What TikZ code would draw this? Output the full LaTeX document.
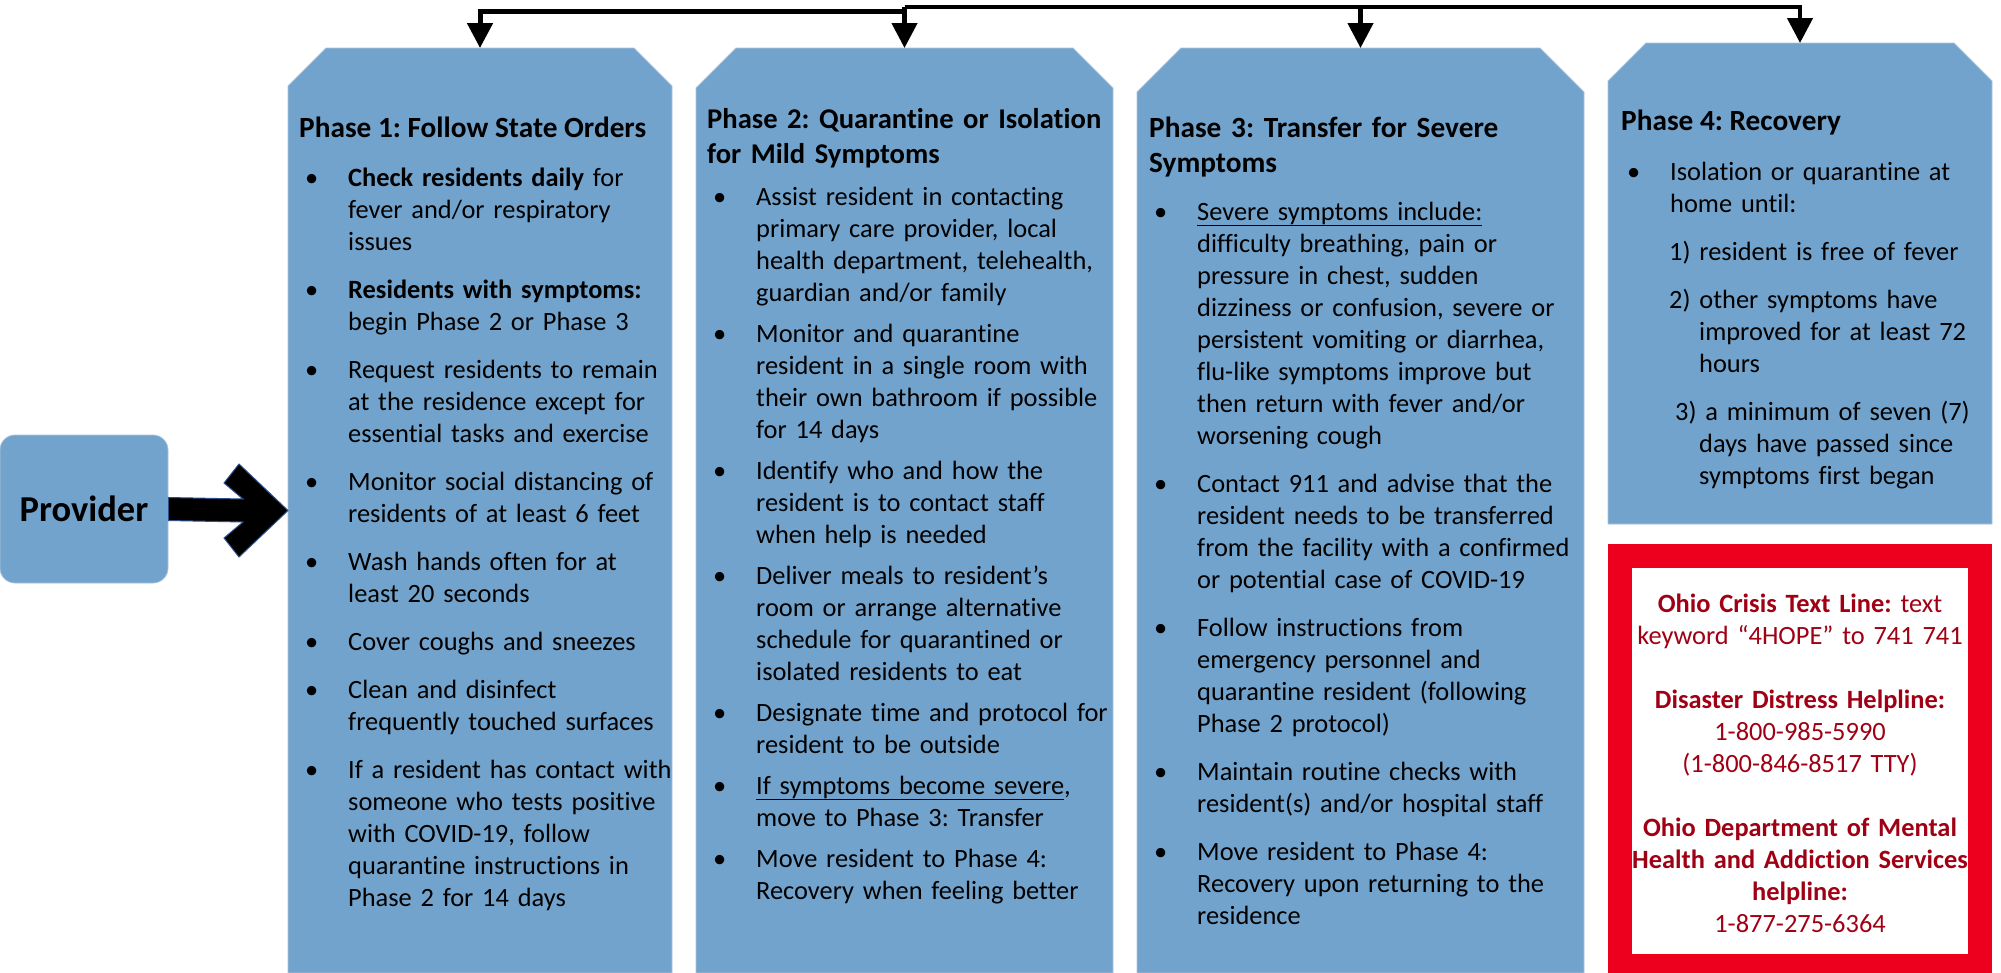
\documentclass[tikz,border=0pt]{standalone}
\usepackage{fontspec}
\setmainfont{Carlito}[Ligatures=NoCommon]
\usetikzlibrary{arrows.meta,calc}
\frenchspacing
\definecolor{boxblue}{RGB}{114,163,204}
\definecolor{boxedge}{RGB}{170,195,220}
\definecolor{alertred}{RGB}{237,0,30}
\definecolor{darkred}{RGB}{160,0,20}
\definecolor{arrowedge}{RGB}{47,82,143}
\newlength\itemgap
\newcommand\nl{\hfil\break}
\newcommand\bpa[1]{\hangindent=43pt\hangafter=1\noindent\makebox[43pt][l]{\textbullet}#1}
\newcommand\bp[1]{\par\vskip\itemgap\bpa{#1}}
\newcommand\np[3]{\par\vskip\itemgap\hangindent=#2\hangafter=1\noindent\hspace*{#1}#3}
\newcommand\bodyfont{\fontsize{26.4}{32}\selectfont\frenchspacing}
\newcommand\titlefont{\fontsize{29.3}{35}\selectfont\bfseries\frenchspacing}
\newcommand\phasebox[6]{%
  \node[boxframe, minimum width={#4-#2}, minimum height={#5-#3}] (#1) at ({(#2+#4)/2},{(#3+#5)/2}) {};
  \filldraw[boxfill] (#2,#5) -- (#2,#3+#6) -- (#2+#6,#3) -- (#4-#6,#3) -- (#4,#3+#6) -- (#4,#5) -- cycle;}
\tikzset{
  boxframe/.style={rectangle, inner sep=0pt, outer sep=0pt},
  boxfill/.style={fill=boxblue, draw=boxedge, line width=0.8pt},
  provbox/.style={rectangle, rounded corners=15pt, fill=boxblue, draw=boxedge, line width=0.8pt,
    minimum width=168pt, minimum height=148pt, inner sep=0pt, font=\fontsize{36.5}{40}\selectfont\bfseries},
  titletext/.style={anchor=base west, inner sep=0pt, align=left, font=\titlefont},
  bodytext/.style={anchor=base west, inner sep=0pt, align=left, font=\bodyfont},
  conn/.style={draw=black, line width=4.5pt, -{Triangle[width=25pt,length=25pt]}},
  thickconn/.style={conn, line width=5pt},
  bigarrow/.style={fill=black, draw=arrowedge, line width=1pt, line join=miter},
  crisisbox/.style={rectangle, draw=alertred, fill=white, line width=24pt, inner sep=0pt,
    minimum width=360pt, minimum height=410pt},
  crisistext/.style={anchor=base, inner sep=0pt, align=center, text width=350pt, text=darkred, font=\bodyfont}
}
\begin{document}
\begin{tikzpicture}[x=1pt,y=-1pt]
\useasboundingbox (0,0) rectangle (2001,972);
\fill[white] (0,0) rectangle (2001,972);

% phase boxes
\phasebox{p1}{288}{48}{672}{973}{38}
\phasebox{p2}{696}{48}{1113}{973}{40}
\phasebox{p3}{1137}{48}{1584}{973}{44}
\phasebox{p4}{1608}{43}{1992}{524}{38}

% provider
\node[provbox] (prov) at (84,509) {Provider};

% big arrow provider -> phase 1
\filldraw[bigarrow] ($(prov.east)+(0,-11.5)$) -- ($(p1.west)+(-45,-11.5)$) -- ($(p1.west)+(-64,-27.5)$)
  -- ($(p1.west)+(-49,-46.5)$) -- (p1.west) -- ($(p1.west)+(-49,46.5)$) -- ($(p1.west)+(-64,27.5)$)
  -- ($(p1.west)+(-45,11.5)$) -- ($(prov.east)+(0,11.5)$) -- cycle;

% top connectors
\coordinate (busA) at (906,11);
\coordinate (busB) at (904.5,7);
\draw[thickconn] (busA) -| (p1.north);
\draw[conn] (busB) -- (p2.north);
\draw[conn] (busB) -| (p3.north);
\draw[conn] (busB) -| (p4.north);

% Phase 1
\node[titletext] (t1) at (299,137) {Phase 1: Follow State Orders};
\node[bodytext, text width=375pt] (b1) at (305,186) {\setlength\itemgap{16pt}%
\bpa{\textbf{Check residents daily} for\nl fever and/or respiratory\nl issues}
\bp{\textbf{Residents with symptoms:}\nl begin Phase 2 or Phase 3}
\bp{Request residents to remain\nl at the residence except for\nl essential tasks and exercise}
\bp{Monitor social distancing of\nl residents of at least 6 feet}
\bp{Wash hands often for at\nl least 20 seconds}
\bp{Cover coughs and sneezes}
\bp{Clean and disinfect\nl frequently touched surfaces}
\bp{If a resident has contact with\nl someone who tests positive\nl with COVID-19, follow\nl quarantine instructions in\nl Phase 2 for 14 days}\par};

% Phase 2
\node[titletext, text width=420pt, font=\fontsize{28.6}{35}\selectfont\bfseries] (t2) at (707,128) {Phase 2: Quarantine or Isolation\nl for Mild Symptoms\par};
\node[bodytext, text width=410pt] (b2) at (713,205) {\setlength\itemgap{9pt}%
\bpa{Assist resident in contacting\nl primary care provider, local\nl health department, telehealth,\nl guardian and/or family}
\bp{Monitor and quarantine\nl resident in a single room with\nl their own bathroom if possible\nl for 14 days}
\bp{Identify who and how the\nl resident is to contact staff\nl when help is needed}
\bp{Deliver meals to resident’s\nl room or arrange alternative\nl schedule for quarantined or\nl isolated residents to eat}
\bp{Designate time and protocol for\nl resident to be outside}
\bp{\underline{If symptoms become severe},\nl move to Phase 3: Transfer}
\bp{Move resident to Phase 4:\nl Recovery when feeling better}\par};

% Phase 3
\node[titletext, text width=420pt] (t3) at (1149,137) {Phase 3: Transfer for Severe\nl Symptoms\par};
\node[bodytext, text width=440pt] (b3) at (1154,220) {\setlength\itemgap{16pt}%
\bpa{\underline{Severe symptoms include:}\nl difficulty breathing, pain or\nl pressure in chest, sudden\nl dizziness or confusion, severe or\nl persistent vomiting or diarrhea,\nl flu-like symptoms improve but\nl then return with fever and/or\nl worsening cough}
\bp{Contact 911 and advise that the\nl resident needs to be transferred\nl from the facility with a confirmed\nl or potential case of COVID-19}
\bp{Follow instructions from\nl emergency personnel and\nl quarantine resident (following\nl Phase 2 protocol)}
\bp{Maintain routine checks with\nl resident(s) and/or hospital staff}
\bp{Move resident to Phase 4:\nl Recovery upon returning to the\nl residence}\par};

% Phase 4
\node[titletext] (t4) at (1621,130) {Phase 4: Recovery};
\node[bodytext, text width=370pt] (b4) at (1627,180) {\setlength\itemgap{16pt}%
\bpa{Isolation or quarantine at\nl home until:}
\np{42pt}{72pt}{1) resident is free of fever}
\np{42pt}{72pt}{2) other symptoms have\nl improved for at least 72\nl hours}
\np{48pt}{72pt}{3) a minimum of seven (7)\nl days have passed since\nl symptoms first began}\par};

% crisis box
\node[crisisbox] (crisis) at (1800,761) {};
\node[crisistext] (crisistxt) at (1800,612) {\textbf{Ohio Crisis Text Line:} text\\
keyword “4HOPE” to 741 741\\[32pt]
\textbf{Disaster Distress Helpline:}\\
1-800-985-5990\\
(1-800-846-8517 TTY)\\[32pt]
\textbf{Ohio Department of Mental}\\
\textbf{Health and Addiction Services}\\
\textbf{helpline:}\\
1-877-275-6364};
\end{tikzpicture}
\end{document}
